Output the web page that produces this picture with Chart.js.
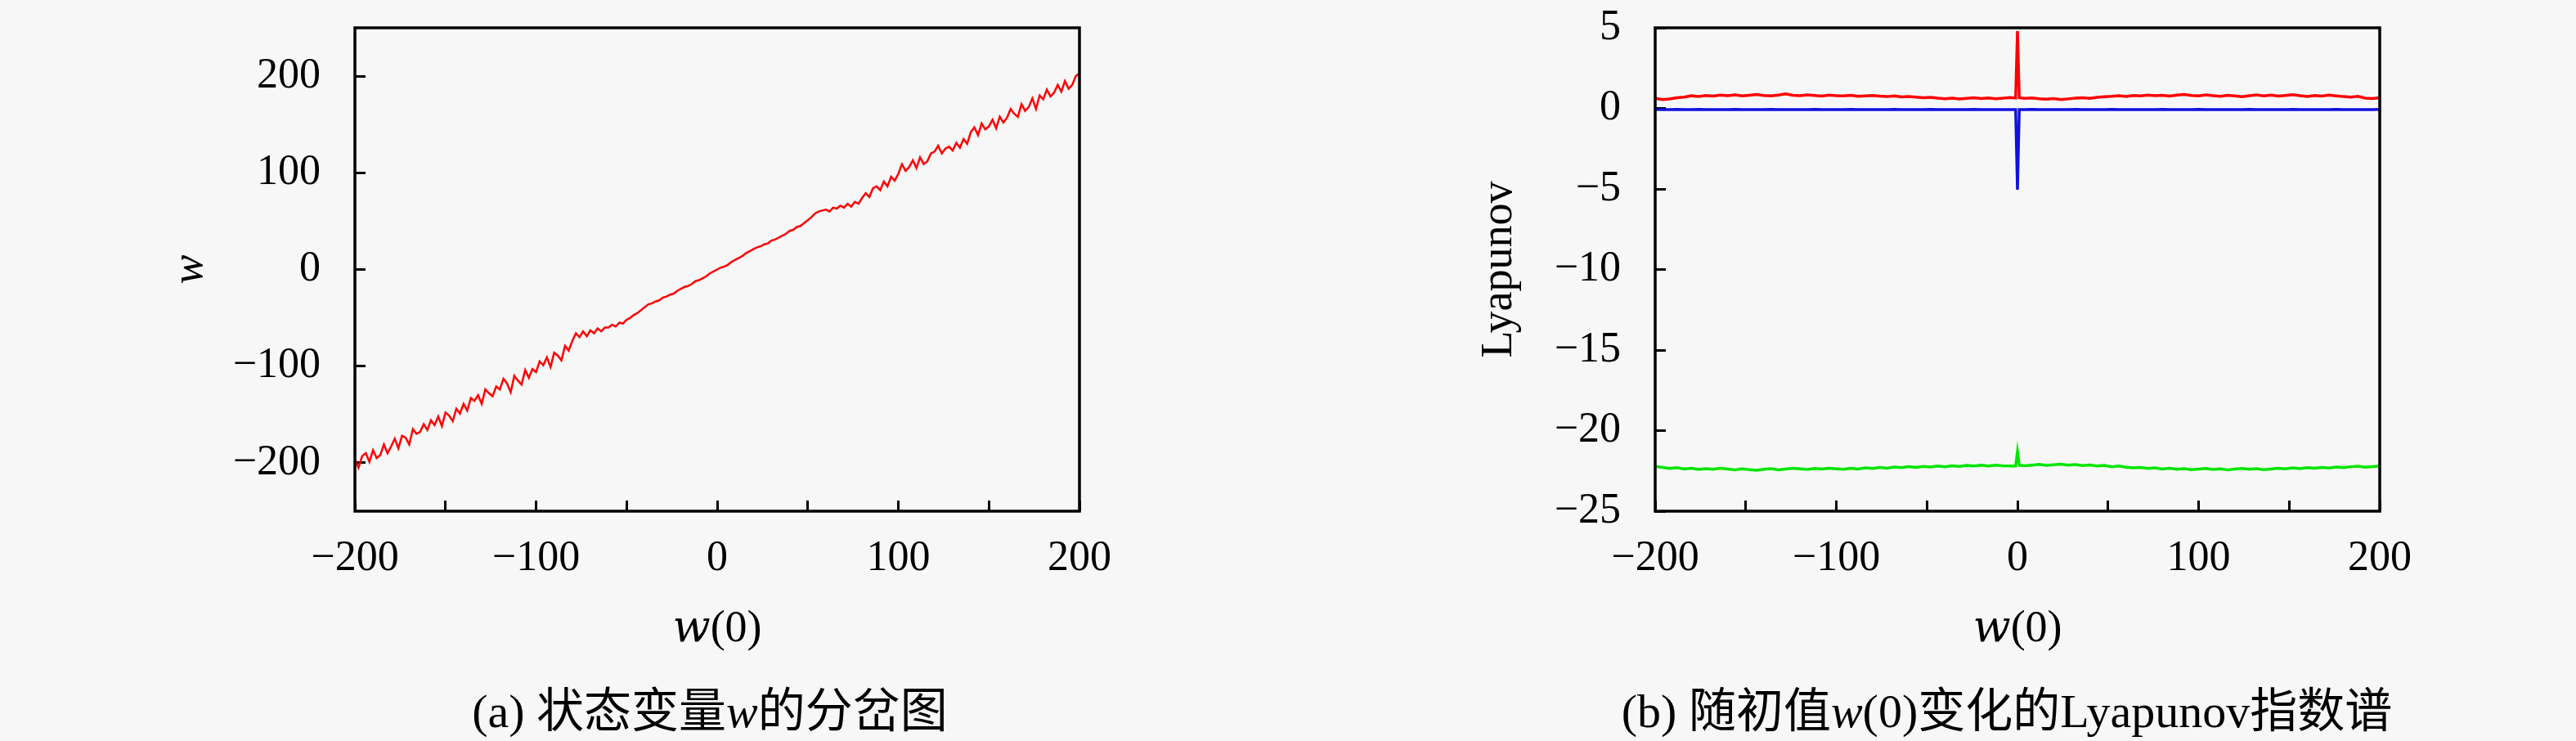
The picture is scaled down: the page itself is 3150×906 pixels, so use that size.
<html>
<head>
<meta charset="UTF-8">
<title>w 分岔图与 Lyapunov 指数谱</title>
<script src="https://cdn.jsdelivr.net/npm/chart.js@4.4.1/dist/chart.umd.min.js"></script>
<style>
  body { margin: 0; background: #f7f7f7; }
  #page { position: relative; width: 3150px; height: 906px; background: #f7f7f7; }
  .box { position: absolute; top: 0; width: 1575px; height: 906px; }
  .cap { position: absolute; top: 834px; height: 72px; line-height: 72px; font-size: 58px; white-space: nowrap;
         font-family: "Liberation Serif", "Noto Sans CJK SC", serif; color: #000; transform: translateX(-50%); }
</style>
</head>
<body>
<div id="page">
  <div class="box" style="left:0"><canvas id="chartA"></canvas></div>
  <div class="box" style="left:1575px"><canvas id="chartB"></canvas></div>
  <div class="cap" style="left:868px">(a) 状态变量<i>w</i>的分岔图</div>
  <div class="cap" style="left:2454px">(b) 随初值<i>w</i>(0)变化的Lyapunov指数谱</div>
</div>
<script>
// ---- data (a): w against w(0), sampled every 2 ----
const xsA = [];
for (let x = -200; x <= 200; x += 2) xsA.push(x);
const wA = [
  -196,-205,-193,-190,-199,-187,-195,-192,-181,-190,
  -183,-175,-185,-172,-174,-181,-165,-170,-168,-160,
  -166,-156,-161,-152,-162,-148,-151,-157,-144,-149,
  -139,-146,-133,-136,-130,-139,-124,-128,-131,-121,
  -124,-113,-118,-127,-110,-115,-119,-104,-112,-103,
  -106,-95,-99,-91,-101,-86,-89,-94,-79,-84,
  -74,-66,-70,-64,-69,-63,-66,-61,-64,-60,
  -60,-57,-59,-55,-56,-52,-50,-47,-45,-42,
  -39,-36,-35,-33,-32,-29,-28,-26,-25,-22,
  -20,-18,-17,-15,-12,-11,-9,-7,-4,-2,
  0,2,3,5,8,10,12,14,17,19,
  21,23,24,26,27,30,31,33,35,37,
  40,41,44,45,48,51,54,58,60,61,
  62,60,64,63,66,64,68,65,70,68,
  74,79,75,84,86,82,91,86,96,92,
  99,109,102,106,113,105,116,109,112,120,
  122,128,120,125,127,123,131,126,135,130,
  142,147,139,151,145,148,155,146,158,152,
  157,166,161,158,171,164,168,177,166,180,
  176,186,179,183,191,184,195,187,191,200,
  203
];
const xTicks = [-200, -150, -100, -50, 0, 50, 100, 150, 200];
const yTicksA = [-200, -100, 0, 100, 200];

// ---- data (b): Lyapunov exponents against w(0) ----
const xsB = [];
for (let x = -200; x <= 200; x += 4) { if (x === 0) xsB.push(-1, 0, 1); else xsB.push(x); }
const lyap1 = [
  0.62,0.55,0.58,0.66,0.70,0.78,0.74,0.80,0.76,0.82,
  0.79,0.84,0.77,0.81,0.86,0.80,0.78,0.83,0.90,0.81,
  0.79,0.84,0.80,0.76,0.82,0.79,0.77,0.81,0.75,0.78,
  0.80,0.76,0.73,0.77,0.71,0.74,0.70,0.66,0.69,0.63,
  0.60,0.64,0.58,0.62,0.66,0.61,0.65,0.60,0.63,0.67,
  0.64,4.80,0.66,
  0.62,0.65,0.60,0.57,0.61,0.55,0.59,0.63,0.66,0.62,
  0.68,0.72,0.75,0.79,0.74,0.80,0.77,0.83,0.79,0.81,
  0.76,0.82,0.86,0.80,0.78,0.84,0.79,0.75,0.81,0.77,
  0.73,0.79,0.84,0.78,0.82,0.76,0.80,0.85,0.79,0.74,
  0.80,0.76,0.82,0.78,0.73,0.70,0.75,0.64,0.61,0.66
];
const lyap2 = [
  -0.06,-0.07,-0.07,-0.06,-0.08,-0.07,-0.06,-0.07,-0.08,-0.07,
  -0.07,-0.06,-0.07,-0.08,-0.07,-0.07,-0.06,-0.07,-0.07,-0.08,
  -0.07,-0.07,-0.06,-0.07,-0.07,-0.08,-0.07,-0.06,-0.07,-0.07,
  -0.08,-0.07,-0.07,-0.06,-0.07,-0.07,-0.08,-0.07,-0.06,-0.07,
  -0.07,-0.07,-0.08,-0.07,-0.06,-0.07,-0.07,-0.07,-0.08,-0.07,
  -0.07,-5.05,-0.07,
  -0.07,-0.06,-0.07,-0.07,-0.08,-0.07,-0.07,-0.06,-0.07,-0.07,
  -0.08,-0.07,-0.06,-0.07,-0.07,-0.07,-0.08,-0.07,-0.07,-0.06,
  -0.07,-0.07,-0.08,-0.07,-0.06,-0.07,-0.07,-0.07,-0.08,-0.07,
  -0.07,-0.06,-0.07,-0.07,-0.08,-0.07,-0.07,-0.06,-0.07,-0.07,
  -0.08,-0.07,-0.07,-0.06,-0.07,-0.07,-0.08,-0.07,-0.07,-0.06
];
const lyap3 = [
  -22.22,-22.28,-22.35,-22.30,-22.38,-22.34,-22.41,-22.36,-22.40,-22.33,
  -22.39,-22.44,-22.37,-22.42,-22.46,-22.40,-22.36,-22.43,-22.38,-22.34,
  -22.37,-22.41,-22.35,-22.39,-22.33,-22.37,-22.40,-22.34,-22.38,-22.31,
  -22.35,-22.29,-22.33,-22.26,-22.30,-22.24,-22.28,-22.22,-22.26,-22.20,
  -22.24,-22.18,-22.22,-22.16,-22.20,-22.15,-22.19,-22.14,-22.18,-22.20,
  -22.20,-21.30,-22.15,
  -22.18,-22.14,-22.10,-22.16,-22.12,-22.08,-22.14,-22.11,-22.17,-22.13,
  -22.20,-22.16,-22.24,-22.20,-22.27,-22.31,-22.28,-22.35,-22.31,-22.38,
  -22.34,-22.40,-22.36,-22.42,-22.38,-22.35,-22.41,-22.37,-22.44,-22.39,
  -22.35,-22.40,-22.36,-22.42,-22.38,-22.33,-22.37,-22.31,-22.36,-22.30,
  -22.34,-22.28,-22.32,-22.26,-22.30,-22.24,-22.21,-22.27,-22.23,-22.20
];
const yTicksB = [-25, -20, -15, -10, -5, 0, 5];

// ---- shared look ----
const SERIF = '"Liberation Serif", "DejaVu Serif", serif';
const fmt = v => (v < 0 ? '\u2212' + Math.abs(v) : String(v));
const tickFont = { family: SERIF, size: 52 };
const titleFont = { family: SERIF, size: 54 };

// box around the plot area
const frame = {
  id: 'frame',
  afterDatasetsDraw(chart) {
    const { ctx, chartArea: a } = chart;
    ctx.save();
    ctx.strokeStyle = '#000';
    ctx.lineWidth = 3.5;
    ctx.strokeRect(a.left, a.top, a.right - a.left, a.bottom - a.top);
    ctx.restore();
  }
};

// inward ticks: negative tick length, no grid lines
const inTicks = { drawOnChartArea: false, drawTicks: true, tickLength: -13, tickWidth: 3, tickColor: '#000' };

function xAxis() {
  return {
    type: 'linear', min: -200, max: 200,
    afterBuildTicks: s => { s.ticks = xTicks.map(v => ({ value: v })); },
    afterFit: s => { s.height = 906 - 625; s.paddingLeft = 0; s.paddingRight = 0; },
    grid: inTicks,
    border: { display: false },
    ticks: { font: tickFont, color: '#000', padding: 40, autoSkip: false, maxRotation: 0,
             callback: v => (v % 100 === 0 ? fmt(v) : '') },
    title: { display: true, text: '\u{1D464}(0)', font: titleFont, color: '#000', padding: { top: 0, bottom: 104 } }
  };
}

function yAxis(min, max, tickVals, width, titleText, titleStyle, titlePad) {
  return {
    type: 'linear', min: min, max: max,
    afterBuildTicks: s => { s.ticks = tickVals.map(v => ({ value: v })); },
    // fixed width, and no extra room asked for the end labels
    afterFit: s => { s.width = width; s.paddingTop = 0; s.paddingBottom = 0; },
    grid: inTicks,
    border: { display: false },
    ticks: { font: tickFont, color: '#000', padding: 55, autoSkip: false, callback: v => fmt(v) },
    title: { display: true, text: titleText, font: Object.assign({ style: titleStyle }, titleFont), color: '#000',
             padding: { top: titlePad, bottom: 0 } }
  };
}

const common = {
  animation: false,
  responsive: true,
  maintainAspectRatio: false,
  plugins: { legend: { display: false }, tooltip: { enabled: false } },
  elements: { point: { radius: 0 }, line: { tension: 0 } }
};

new Chart(document.getElementById('chartA'), {
  type: 'line',
  data: {
    datasets: [{
      data: xsA.map((x, i) => ({ x: x, y: wA[i] })),
      borderColor: '#ff0000', borderWidth: 2.5
    }]
  },
  options: Object.assign({}, common, {
    layout: { padding: { left: 0, right: 255, top: 34, bottom: 0 } },
    scales: {
      x: xAxis(),
      y: yAxis(-250, 250, yTicksA, 434, 'w', 'italic', 200)
    }
  }),
  plugins: [frame]
});

new Chart(document.getElementById('chartB'), {
  type: 'line',
  data: {
    datasets: [
      { data: xsB.map((x, i) => ({ x: x, y: lyap3[i] })), borderColor: '#00e600', borderWidth: 3.5 },
      { data: xsB.map((x, i) => ({ x: x, y: lyap2[i] })), borderColor: '#1010e0', borderWidth: 3.5 },
      { data: xsB.map((x, i) => ({ x: x, y: lyap1[i] })), borderColor: '#ff0000', borderWidth: 3.5 }
    ]
  },
  options: Object.assign({}, common, {
    layout: { padding: { left: 0, right: 240, top: 34, bottom: 0 } },
    scales: {
      x: xAxis(),
      y: yAxis(-25, 5, yTicksB, 449, 'Lyapunov', 'normal', 226)
    }
  }),
  plugins: [frame]
});
</script>
</body>
</html>
